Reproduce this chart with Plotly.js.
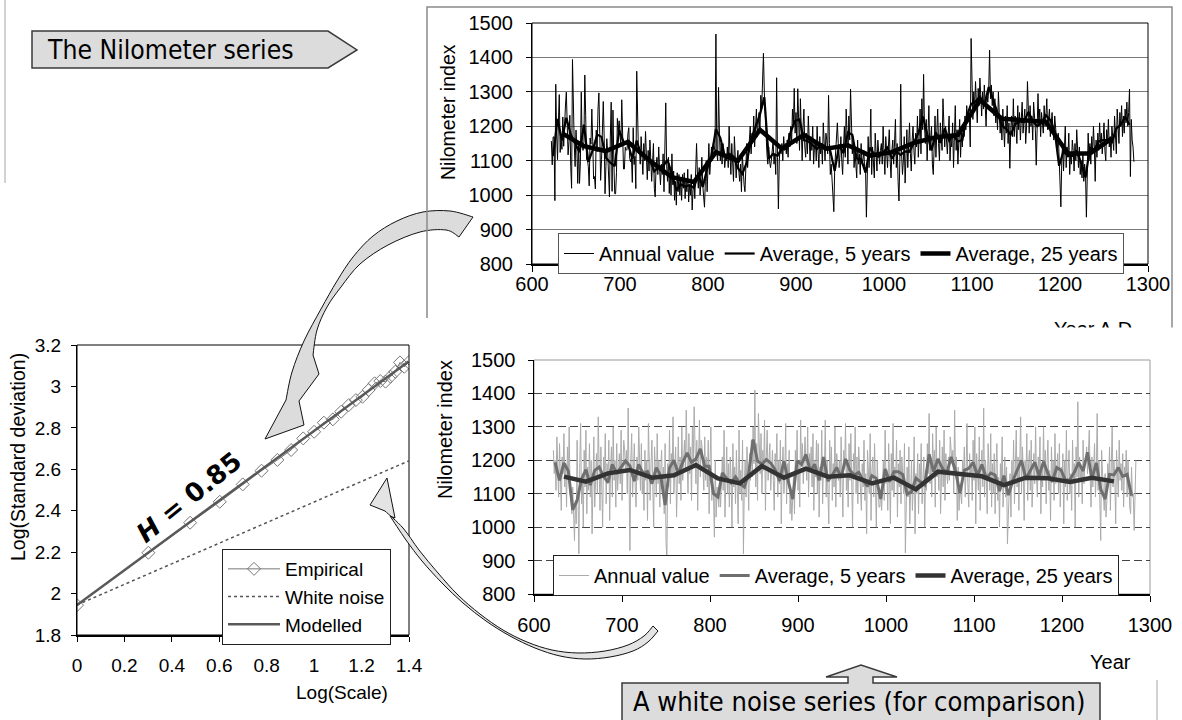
<!DOCTYPE html>
<html>
<head>
<meta charset="utf-8">
<script src="https://cdn.plot.ly/plotly-3.0.1.min.js"></script>
<style>
  html, body { margin: 0; padding: 0; background: #fff; }
  #chart { width: 1182px; height: 720px; }
</style>
</head>
<body>
<div id="chart"></div>
<script>
// ---------------------------------------------------------------------------
// Data
// ---------------------------------------------------------------------------
const FIRST_YEAR = 622;

// Annual minimum levels of the Nile (Nilometer index), 622-1284 A.D.
const nilometerAnnual = [
  1157,1088,1169,1169,984, 1322,1178,1103,1211,1292, 1124,1171,1133,1227,1142, 1216,1259,1299,1232,1117, 1155,1232,1083,1020,1394,
  1196,1148,1083,1189,1133, 1034,1157,1034,1097,1299, 1157,1130,1155,1349,1232, 1103,1103,1083,1027,1166, 1148,1250,1155,1047,1054,
  1018,1189,1126,1250,1297, 1178,1043,1103,1250,1272, 1169,1004,1083,1164,1124, 1027,995,1169,1270,1011, 1247,1101,1004,1004,1065,
  1223,1184,1216,1180,1142, 1277,1206,1076,1076,1139, 1130,1133,1178,1196,1107, 1097,1109,1037,1196,1089, 1113,1019,1360,1180,1120,
  1140,1090,1170,1120,1060, 1150,1100,1185,1080,1045, 1130,1070,1160,1110,1040, 1095,1150,1020,995,1085, 1110,1060,1140,1075,1030,
  1090,1060,1120,1010,1140, 1268,1090,1040,1110,1005, 1080,1000,1120,1030,1070, 985,1040,971,1065,1010, 1060,1000,1050,985,1060,
  1020,1065,990,1040,1010, 1075,980,1030,1000,1060, 957,1015,1045,990,1100, 1150,1060,1020,1080,1000, 1040,1110,1030,975,965,
  1040,1100,1010,1080,1150, 1060,1120,1140,1100,1150, 1140,1130,1468,1120,1100, 1313,1180,1100,1150,1090, 1150,1130,1080,1110,1100,
  1140,1080,1200,1120,1060, 1150,1090,1040,1170,1110, 1050,1100,1130,1070,1040, 1090,1010,1120,1060,1030, 1010,1100,1150,1080,1130,
  1150,1200,1120,1180,1160, 1230,1140,1190,1250,1170, 1210,1240,1180,1290,1250, 1320,1412,1300,1230,1160, 1120,1090,1140,1100,1080,
  1100,1130,1160,1090,1120, 1060,1341,1110,960,1100, 1140,1120,1150,1100,1170, 1130,1150,1120,1160,1110, 1180,1140,1200,1150,1250,
  1200,1310,1180,1240,1150, 1309,1220,1130,1280,1160, 1100,1200,1250,1140,1110, 1180,1120,1230,1150,1100, 1170,1130,1200,1090,1140,
  1160,1100,1200,1130,1080, 1170,1120,1150,1090,1210, 1140,1100,1180,1160,1120, 1290,1150,1060,1090,1050, 1000,952,1080,1130,1190,
  1210,1150,1080,1120,1170, 1100,1060,1140,1200,1110, 1250,1180,1090,1230,1160, 1308,1200,1120,1170,1080, 1130,1100,1050,1160,1090,
  1120,1060,1150,1090,1100, 1130,1080,1080,936,1100, 1170,1080,1130,1250,1060, 1140,1100,1050,1180,1120, 1070,1160,1110,1090,1130,
  1150,1090,1200,1120,1060, 1170,1110,1080,1140,1190, 1100,1050,1130,1160,1090, 1140,1220,1080,1150,1040, 983,1100,1322,1120,1060,
  1100,1170,1035,1140,1190, 1080,1150,1210,1120,1070, 1160,1200,1130,1090,1180, 1140,1230,1110,1170,1250, 1120,1280,1190,1351,1200,
  1150,1220,1100,1180,1260, 1130,1170,1200,1090,1060, 1140,1230,1110,1180,1250, 1150,1100,1210,1170,1130, 1280,1190,1140,1200,1160,
  1120,1180,1230,1100,1160, 1140,1210,1080,1170,1260, 1130,1190,1090,1150,1220, 1110,1180,1140,1200,1170, 1230,1190,1260,1210,1250,
  1230,1140,1455,1280,1220, 1300,1250,1330,1270,1210, 1310,1260,1340,1290,1230, 1300,1250,1320,1240,1200, 1290,1270,1310,1421,1280,
  1320,1260,1300,1230,1280, 1210,1250,1190,1300,1240, 1180,1220,1160,1250,1200, 1140,1230,1180,1260,1150, 1210,1078,1190,1230,1170,
  1280,1170,1230,1200,1150, 1260,1190,1240,1160,1220, 1270,1180,1210,1250,1150, 1200,1330,1240,1180,1260, 1200,1230,1160,1270,1220,
  1190,1087,1230,1295,1200, 1250,1170,1240,1210,1180, 1260,1200,1230,1280,1190, 1220,1250,1170,1210,1240, 1190,1160,1230,1200,1150,
  1130,1180,1090,1060,966, 1100,1150,1070,1120,1200, 1080,1140,1110,1180,1060, 1120,1090,1160,1130,1070, 1150,1100,1190,1120,1080,
  1140,1060,1100,1050,1120, 1040,1090,1060,936,1130, 1180,1100,1150,1090,1170, 1120,1200,1140,1040,1160, 1110,1180,1130,1210,1150,
  1180,1120,1160,1210,1130, 1100,1190,1150,1220,1140, 1170,1110,1200,1160,1130, 1230,1180,1120,1250,1190, 1150,1240,1200,1260,1170,
  1230,1180,1250,1210,1270, 1200,1240,1308,1054,1220, 1160,1140,1097
];

// Uncorrelated comparison series of the same length and spread
const whiteNoiseAnnual = [
  1230,1160,1200,1110,1270, 1180,1090,1250,1130,1050, 1210,1160,1280,1120,1190, 1060,1240,1140,1300,1100, 1090,1040,1120,1050,960,
  1080,1010,1260,1130,920, 1190,1310,1070,1150,1000, 1230,1120,1290,1040,1180, 1110,1250,1090,1200,980, 1160,1270,1060,1140,1220,
  1100,1330,1180,1050,1240, 1120,1000,1210,1150,1280, 1070,1190,1130,1260,1020, 1170,1240,1090,1300,1140, 1200,1060,1250,1110,1180,
  1220,1130,1290,1080,1180, 1260,1230,1170,1230,1100, 1356,1150,930,1200,1280, 1090,1170,1250,1120,1060, 1210,1140,1300,1180,1110,
  1250,1100,1170,1050,1230, 1140,1200,1020,1310,1160, 1080,1190,1260,1120,1000, 1240,1150,1090,1280,1130, 1200,1060,1170,1230,1110,
  1180,1040,1250,960,902, 1190,1120,1290,1070,1220, 1150,1330,1100,1180,1240, 1030,1160,1270,1130,1210, 1080,1300,1140,1190,1260,
  1170,1350,1210,1100,1280, 1160,1240,1080,1300,1190, 1360,1220,1130,1260,1050, 1200,1320,1150,1260,1240, 1180,1110,1270,1140,1210,
  1120,1260,1040,1190,1300, 1080,1160,1090,970,1200, 1030,1120,1090,1060,1150, 1060,1140,1210,1110,1290, 1030,1170,1240,1100,1190,
  1060,1210,1140,1000,1250, 1120,1180,1070,1230,1150, 1010,1290,1100,1170,1080, 1260,920,1130,1200,1090, 1240,1160,1050,1220,1140,
  1260,1150,1300,1190,1410, 1120,1250,1080,1340,1200, 1160,1280,1100,1230,1170, 1320,1050,1210,1290,1140, 1190,1250,1110,1180,1230,
  1140,1050,1220,1170,1280, 1090,1200,1130,1260,1010, 1180,1240,1100,1160,1310, 1070,1190,1150,1230,1040, 1110,1020,1090,1160,1040,
  1230,1160,1290,1110,1200, 1060,1320,1180,1250,1130, 1190,1270,1190,1140,1300, 1090,1220,1170,1240,1120, 1280,1050,1200,1150,1260,
  1100,1250,1030,1180,1140, 1290,1070,1210,1160,1320, 1090,1200,1130,1010,1260, 1150,1240,1080,1190,1120, 1300,1060,1220,1170,1140,
  1200,1090,1270,1150,1030, 1230,1180,1310,1110,1190, 1060,1250,1140,1280,1120, 1000,1220,1160,1300,1100, 1210,1070,1240,1170,1130,
  1050,1190,1120,1260,1080, 1160,980,1230,1140,1100, 1280,1020,1170,1210,1090, 1250,1130,1000,1200,1150, 1060,1060,1110,1050,1140,
  1200,1080,1290,1130,1170, 1050,1250,1150,1010,1220, 1110,1310,1090,1180,1140, 1260,1030,1190,1120,1230, 1070,1210,1160,1100,1250,
  923,1060,1180,1090,1240, 1010,1150,1200,1050,1120, 1270,980,1160,1100,1220, 1040,1190,1130,1250,1070, 1140,1210,1000,1170,1110,
  1250,1160,1340,1130,1210, 1090,1280,1170,1230,1060, 1300,1150,1200,1110,1260, 1040,1190,1240,1120,1290, 1080,1220,1160,1130,1210,
  1140,1270,1220,1190,1230, 1100,1350,1160,1210,1020, 1180,1050,1120,1090,1070, 1200,1150,1240,1090,1170, 1310,1130,1060,1220,1160,
  1190,1080,1260,1140,1300, 1010,1220,1160,1110,1270, 1050,1180,1230,1120,1356, 1090,1200,1150,1040,1250, 1170,1110,1280,1060,1190,
  1100,1220,1040,1170,1250, 1080,1150,1000,1190,1120, 1270,1060,1140,1210,1090, 1180,950,1080,1110,1160, 1030,1200,1130,1260,1070,
  1180,1290,1120,1210,1050, 1160,1330,1100,1240,1170, 1020,1200,1140,1280,1080, 1190,1230,1110,1260,1060, 1170,1220,1130,1300,1150,
  1090,1210,1160,1270,1040, 1180,1120,1300,1150,1230, 1070,1190,1260,1110,1170, 1020,1240,1140,1200,1080, 1280,1130,1160,1220,1100,
  1250,1060,1180,1140,1220, 1010,1200,1120,1290,1080, 1170,1230,1100,1160,1050, 1260,1130,1190,1000,1240, 1150,1375,1090,1210,1140,
  1180,1070,1260,1130,1200, 1200,1240,1160,1230,1290, 1150,1060,1210,1120,1180, 1250,1090,1170,1340,1110, 1200,1040,960,1230,1140,
  1100,1050,1160,1030,1080, 1190,1130,1240,1050,1180, 1300,1120,1200,1150,1010, 1230,1170,1090,1260,1140, 1190,1110,1220,1060,1180,
  1150,1230,1090,1200,1120, 1060,1040,1180,1090,1100, 990,1170,1200
];

// 25-year block averages (centre year of each block)
const avg25Years = [634, 659, 684, 709, 734, 759, 784, 809, 834, 859, 884, 909, 934,
                    959, 984, 1009, 1034, 1059, 1084, 1109, 1134, 1159, 1184, 1209, 1234, 1259];
const nilometerAvg25 = [1180, 1142, 1128, 1155, 1100, 1052, 1038, 1125, 1100, 1190, 1135, 1175, 1135,
                        1145, 1115, 1125, 1152, 1168, 1175, 1276, 1222, 1218, 1213, 1121, 1121, 1165];
const whiteNoiseAvg25 = [1151, 1136, 1161, 1171, 1148, 1155, 1186, 1146, 1131, 1183, 1148, 1175, 1151,
                         1155, 1131, 1148, 1113, 1166, 1159, 1152, 1126, 1148, 1146, 1135, 1148, 1137];

// Aggregated standard deviation versus time scale (log10 of both)
const logScale = [0, 0.301, 0.477, 0.602, 0.699, 0.778, 0.845, 0.903, 0.954, 1.0, 1.041, 1.079, 1.114,
                  1.146, 1.176, 1.204, 1.230, 1.255, 1.279, 1.301, 1.322, 1.342, 1.362, 1.380, 1.398];
const logSdEmpirical = [1.944, 2.197, 2.342, 2.443, 2.527, 2.593, 2.645, 2.693, 2.749, 2.781, 2.825, 2.841, 2.878,
                        2.910, 2.934, 2.950, 2.983, 3.015, 3.026, 3.023, 3.047, 3.071, 3.116, 3.095, 3.116];
const logScaleLine = [0, 1.398];
const logSdWhiteNoise = [1.945, 2.640];
const logSdModelled = [1.945, 3.120];
const hurstLabel = 'H = 0.85';

// ---------------------------------------------------------------------------
// Derived series
// ---------------------------------------------------------------------------
const years = nilometerAnnual.map((_, i) => FIRST_YEAR + i);

// Non-overlapping 5-year means, plotted at the centre year of each block
function blockMeans(values, size) {
  const xs = [], ys = [];
  for (let s = 0; s + size <= values.length; s += size) {
    let sum = 0;
    for (let k = 0; k < size; k++) sum += values[s + k];
    xs.push(FIRST_YEAR + s + (size - 1) / 2);
    ys.push(sum / size);
  }
  return { x: xs, y: ys };
}
const nilometerAvg5 = blockMeans(nilometerAnnual, 5);
const whiteNoiseAvg5 = blockMeans(whiteNoiseAnnual, 5);

// ---------------------------------------------------------------------------
// Page geometry helpers (pixel -> paper fraction)
// ---------------------------------------------------------------------------
const W = 1182, H = 720;
const px = x => x / W;
const py = y => 1 - y / H;
const pt = p => px(p[0]).toFixed(5) + ',' + py(p[1]).toFixed(5);

function smoothThrough(pts) {
  let s = '';
  for (let i = 0; i < pts.length - 1; i++) {
    const p0 = pts[Math.max(i - 1, 0)], p1 = pts[i], p2 = pts[i + 1], p3 = pts[Math.min(i + 2, pts.length - 1)];
    const c1 = [p1[0] + (p2[0] - p0[0]) / 6, p1[1] + (p2[1] - p0[1]) / 6];
    const c2 = [p2[0] - (p3[0] - p1[0]) / 6, p2[1] - (p3[1] - p1[1]) / 6];
    s += ' C ' + pt(c1) + ' ' + pt(c2) + ' ' + pt(p2);
  }
  return s;
}
function curvedArrow(sideA, head, sideB) {
  let d = 'M ' + pt(sideA[0]) + smoothThrough(sideA);
  head.forEach(p => { d += ' L ' + pt(p); });
  d += ' L ' + pt(sideB[0]) + smoothThrough(sideB) + ' Z';
  return d;
}
function polygon(pts) {
  return 'M ' + pts.map(pt).join(' L ') + ' Z';
}
function polyline(pts) {
  return 'M ' + pts.map(pt).join(' L ');
}

// Arrow from the Nilometer chart down to the fitted slope
const arrowToSlope = curvedArrow(
  [[473,217],[450,211],[423,212],[397,221],[373,236],[353,257],[337,281],[321,309],[304,341],[292,372],[286,400]],
  [[265,439],[304,425],[299,401],[319,374]],
  [[313,355],[317,330],[327,307],[341,287],[360,264],[388,245],[420,232],[446,230],[459,237]]
);
// Arrow from the white-noise chart up to the white-noise line
const arrowToNoise = curvedArrow(
  [[653,626],[644,636],[628,645],[605,651],[578,653],[552,650],[527,642],[503,630],[480,614],[458,595],[438,573],[419,550],[403,528],[385,511]],
  [[370,505],[387,478],[395,518]],
  [[390,516],[406,540],[422,561],[442,583],[463,603],[486,621],[510,636],[535,648],[560,656],[585,659],[610,657],[633,651],[648,642],[658,631]]
);

// ---------------------------------------------------------------------------
// Traces
// ---------------------------------------------------------------------------
const LAB = 'Liberation Sans, Arial, sans-serif';
const traces = [
  { x: years, y: nilometerAnnual, xaxis: 'x', yaxis: 'y', type: 'scatter', mode: 'lines',
    name: 'Annual value', legend: 'legend', line: { color: '#000', width: 1 } },
  { x: nilometerAvg5.x, y: nilometerAvg5.y, xaxis: 'x', yaxis: 'y', type: 'scatter', mode: 'lines',
    name: 'Average, 5 years', legend: 'legend', line: { color: '#000', width: 2.2 } },
  { x: avg25Years, y: nilometerAvg25, xaxis: 'x', yaxis: 'y', type: 'scatter', mode: 'lines',
    name: 'Average, 25 years', legend: 'legend', line: { color: '#000', width: 4.5 } },

  { x: years, y: whiteNoiseAnnual, xaxis: 'x2', yaxis: 'y2', type: 'scatter', mode: 'lines',
    name: 'Annual value', legend: 'legend2', line: { color: '#ababab', width: 1 } },
  { x: whiteNoiseAvg5.x, y: whiteNoiseAvg5.y, xaxis: 'x2', yaxis: 'y2', type: 'scatter', mode: 'lines',
    name: 'Average, 5 years', legend: 'legend2', line: { color: '#6f6f6f', width: 3 } },
  { x: avg25Years, y: whiteNoiseAvg25, xaxis: 'x2', yaxis: 'y2', type: 'scatter', mode: 'lines',
    name: 'Average, 25 years', legend: 'legend2', line: { color: '#333', width: 4.5 } },

  { x: logScale, y: logSdEmpirical, xaxis: 'x3', yaxis: 'y3', type: 'scatter', mode: 'lines+markers',
    name: 'Empirical', legend: 'legend3', line: { color: '#777', width: 1 },
    marker: { symbol: 'diamond-open', size: 10, color: '#777', line: { width: 1 } } },
  { x: logScaleLine, y: logSdWhiteNoise, xaxis: 'x3', yaxis: 'y3', type: 'scatter', mode: 'lines',
    name: 'White noise', legend: 'legend3', line: { color: '#555', width: 1.5, dash: 'dot' } },
  { x: logScaleLine, y: logSdModelled, xaxis: 'x3', yaxis: 'y3', type: 'scatter', mode: 'lines',
    name: 'Modelled', legend: 'legend3', line: { color: '#595959', width: 2.5 } }
];

// ---------------------------------------------------------------------------
// Layout
// ---------------------------------------------------------------------------
const tickFont = { family: LAB, size: 20, color: '#000' };
const tickFontSmall = { family: LAB, size: 19, color: '#000' };

const layout = {
  width: W, height: H,
  margin: { l: 0, r: 0, t: 0, b: 0, pad: 0 },
  paper_bgcolor: '#fff', plot_bgcolor: 'rgba(0,0,0,0)',
  showlegend: true,
  font: { family: LAB, color: '#000' },

  // Nilometer series
  xaxis: { domain: [px(532), px(1148)], anchor: 'y', range: [600, 1300], dtick: 100, tick0: 600,
    showgrid: false, zeroline: false, showline: true, linecolor: '#000', linewidth: 2,
    ticks: 'outside', ticklen: 6, tickcolor: '#000', tickfont: tickFont, ticklabelstandoff: -5 },
  yaxis: { domain: [py(264), py(23)], anchor: 'x', range: [800, 1500], dtick: 100, tick0: 800,
    showgrid: true, gridcolor: '#7a7a7a', gridwidth: 1, zeroline: false, showline: true, linecolor: '#000',
    linewidth: 1, ticks: 'outside', ticklen: 5, tickcolor: '#000', tickfont: tickFont, ticklabelstandoff: 9 },

  // White-noise series
  xaxis2: { domain: [px(534), px(1150)], anchor: 'y2', range: [600, 1300], dtick: 100, tick0: 600,
    showgrid: false, zeroline: false, showline: true, linecolor: '#000', linewidth: 1.5,
    ticks: 'outside', ticklen: 6, tickcolor: '#000', tickfont: tickFont, ticklabelstandoff: 6 },
  yaxis2: { domain: [py(594), py(360)], anchor: 'x2', range: [800, 1500], dtick: 100, tick0: 800,
    showgrid: true, gridcolor: '#444', gridwidth: 1, griddash: '8px,4px', zeroline: false, showline: true,
    linecolor: '#000', linewidth: 1.5, ticks: 'outside', ticklen: 5, tickcolor: '#000', tickfont: tickFont,
    ticklabelstandoff: 8 },

  // Scaling plot
  xaxis3: { domain: [px(77), px(409)], anchor: 'y3', range: [0, 1.4], dtick: 0.2, tick0: 0,
    showgrid: false, zeroline: false, showline: true, linecolor: '#000', linewidth: 2,
    ticks: 'outside', ticklen: 5, tickcolor: '#000', tickfont: tickFontSmall, ticklabelstandoff: 7 },
  yaxis3: { domain: [py(635), py(345)], anchor: 'x3', range: [1.8, 3.2], dtick: 0.2, tick0: 1.8,
    showgrid: false, zeroline: false, showline: true, linecolor: '#000', linewidth: 1,
    ticks: 'outside', ticklen: 5, tickcolor: '#000', tickfont: tickFontSmall, ticklabelstandoff: 6 },

  legend: { x: px(558), y: py(233), xanchor: 'left', yanchor: 'top', orientation: 'h',
    bgcolor: '#fff', bordercolor: '#555', borderwidth: 1, font: { family: LAB, size: 20, color: '#000' },
    itemwidth: 30, tracegroupgap: 0 },
  legend2: { x: px(553), y: py(555), xanchor: 'left', yanchor: 'top', orientation: 'h',
    bgcolor: '#fff', bordercolor: '#222', borderwidth: 1, font: { family: LAB, size: 20, color: '#000' },
    itemwidth: 30, tracegroupgap: 0 },
  legend3: { x: px(222), y: py(549), xanchor: 'left', yanchor: 'top', orientation: 'v',
    bgcolor: '#fff', bordercolor: '#222', borderwidth: 1, font: { family: LAB, size: 19, color: '#000' },
    itemwidth: 52, tracegroupgap: 0 },

  shapes: [
    // plot frames
    { type: 'rect', xref: 'x domain', yref: 'y domain', x0: 0, x1: 1, y0: 0, y1: 1,
      line: { color: '#000', width: 1 }, layer: 'above' },
    { type: 'rect', xref: 'x2 domain', yref: 'y2 domain', x0: 0, x1: 1, y0: 0, y1: 1,
      line: { color: '#999', width: 1 }, layer: 'below' },
    { type: 'rect', xref: 'x3 domain', yref: 'y3 domain', x0: 0, x1: 1, y0: 0, y1: 1,
      line: { color: '#000', width: 1 }, layer: 'above' },

    // curved block arrows
    { type: 'path', xref: 'paper', yref: 'paper', path: arrowToSlope,
      fillcolor: '#dcdcdc', line: { color: '#111', width: 1 }, layer: 'above' },
    { type: 'path', xref: 'paper', yref: 'paper', path: arrowToNoise,
      fillcolor: '#e4e4e4', line: { color: '#111', width: 1 }, layer: 'above' },

    // frame around the Nilometer panel
    { type: 'path', xref: 'paper', yref: 'paper', path: polyline([[427,318],[427,7],[1172,7],[1172,331]]),
      line: { color: '#8a8a8a', width: 1.5 }, layer: 'above' },
    // faint page edges
    { type: 'path', xref: 'paper', yref: 'paper', path: polyline([[5,0],[5,183]]),
      line: { color: '#d2d2d2', width: 2 }, layer: 'above' },
    { type: 'path', xref: 'paper', yref: 'paper', path: polyline([[1157,680],[1157,720]]),
      line: { color: '#d2d2d2', width: 2 }, layer: 'above' },

    // callout boxes
    { type: 'path', xref: 'paper', yref: 'paper',
      path: polygon([[32,31],[328,31],[357,50],[328,68],[32,68]]),
      fillcolor: '#dcdcdc', line: { color: '#3a3a3a', width: 1.5 }, layer: 'above' },
    { type: 'path', xref: 'paper', yref: 'paper',
      path: polygon([[622,683],[848,683],[848,677],[826,677],[861,665],[897,677],[873,677],[873,683],[1100,683],[1100,726],[622,726]]),
      fillcolor: '#dcdcdc', line: { color: '#3a3a3a', width: 1.5 }, layer: 'above' }
  ],

  annotations: [
    { text: 'The Nilometer series', xref: 'paper', yref: 'paper', x: px(45), y: py(50),
      xanchor: 'left', yanchor: 'middle', showarrow: false,
      font: { family: 'DejaVu Sans Condensed, DejaVu Sans, sans-serif', size: 26.3, color: '#000' } },
    { text: 'A white noise series (for comparison)', xref: 'paper', yref: 'paper', x: px(631), y: py(701),
      xanchor: 'left', yanchor: 'middle', showarrow: false,
      font: { family: 'DejaVu Sans Condensed, DejaVu Sans, sans-serif', size: 27, color: '#000' } },

    { text: 'Nilometer index', xref: 'paper', yref: 'paper', x: px(448), y: py(112), textangle: -90,
      xanchor: 'center', yanchor: 'middle', showarrow: false, font: { family: LAB, size: 19.5, color: '#000' } },
    { text: 'Year A.D.', xref: 'paper', yref: 'paper', x: px(1052), y: py(316),
      xanchor: 'left', yanchor: 'top', showarrow: false, font: { family: LAB, size: 20, color: '#000' } },
    { text: ' ', xref: 'paper', yref: 'paper', x: px(1100), y: py(327), width: 150, height: 22, borderpad: 0,
      xanchor: 'center', yanchor: 'top', showarrow: false, bgcolor: '#fff', font: { size: 10 } },

    { text: 'Nilometer index', xref: 'paper', yref: 'paper', x: px(445), y: py(430), textangle: -90,
      xanchor: 'center', yanchor: 'middle', showarrow: false, font: { family: LAB, size: 20, color: '#000' } },
    { text: 'Year', xref: 'paper', yref: 'paper', x: px(1110), y: py(662),
      xanchor: 'center', yanchor: 'middle', showarrow: false, font: { family: LAB, size: 20, color: '#000' } },

    { text: 'Log(Standard deviation)', xref: 'paper', yref: 'paper', x: px(18), y: py(457), textangle: -90,
      xanchor: 'center', yanchor: 'middle', showarrow: false, font: { family: LAB, size: 19.5, color: '#000' } },
    { text: 'Log(Scale)', xref: 'paper', yref: 'paper', x: px(342), y: py(692),
      xanchor: 'center', yanchor: 'middle', showarrow: false, font: { family: LAB, size: 19, color: '#000' } },
    { text: '<b><i>' + hurstLabel.charAt(0) + '</i>' + hurstLabel.slice(1) + '</b>', xref: 'paper', yref: 'paper',
      x: px(189), y: py(497), textangle: -39, xanchor: 'center', yanchor: 'middle', showarrow: false,
      font: { family: 'DejaVu Sans, sans-serif', size: 26, color: '#000' } }
  ]
};

Plotly.newPlot('chart', traces, layout, { displayModeBar: false, staticPlot: true });
</script>
</body>
</html>
